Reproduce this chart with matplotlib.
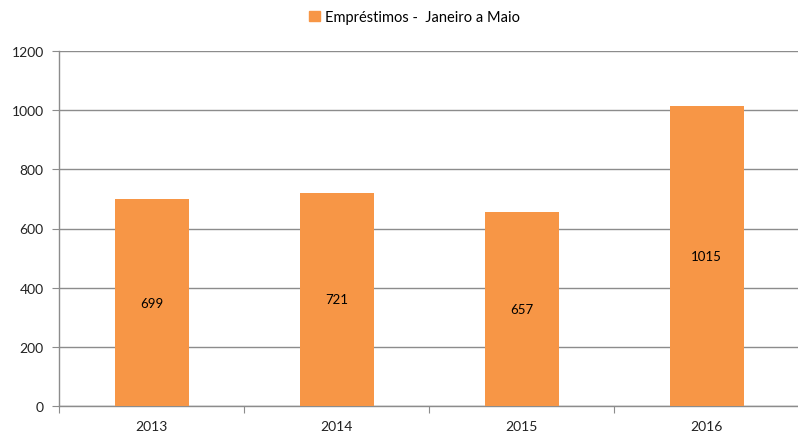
import matplotlib
matplotlib.use("Agg")
import matplotlib.pyplot as plt
from matplotlib.patches import Patch
import numpy as np

categories = ["2013", "2014", "2015", "2016"]
values = [699, 721, 657, 1015]
series_name = "Empréstimos -  Janeiro a Maio"
yticks = [0, 200, 400, 600, 800, 1000, 1200]

plt.rcParams['font.family'] = ['Lato', 'DejaVu Sans']
orange = "#F79646"
grey = "#8c8c8c"

fig = plt.figure(figsize=(7.98, 4.35), dpi=100)
ax = fig.add_axes([59/798, 1 - 407/435, 740/798, 355/435])

x = np.arange(len(categories))
bars = ax.bar(x, values, width=0.4, color=orange, zorder=3)
for xi, v in zip(x, values):
    ax.text(xi, v / 2, str(v), ha="center", va="center", fontsize=9.5, color="#000000", zorder=4)

ax.set_xlim(-0.5, len(categories) - 0.5)
ax.set_ylim(0, 1200)
ax.set_yticks(yticks)
ax.set_yticklabels([str(t) for t in yticks], fontsize=10, color="#222222")
ax.yaxis.grid(True, color=grey, linewidth=1, zorder=0)

ax.set_xticks(np.arange(-0.5, len(categories) + 0.5, 1))
ax.set_xticklabels([])
ax.set_xticks(x, minor=True)
ax.set_xticklabels(categories, minor=True, fontsize=10, color="#222222")
ax.tick_params(axis="x", which="major", length=5, color=grey, direction="out")
ax.tick_params(axis="x", which="minor", length=0, pad=10)
ax.tick_params(axis="y", length=5, color=grey, pad=6)

for s in ["top", "right"]:
    ax.spines[s].set_visible(False)
for s in ["left", "bottom"]:
    ax.spines[s].set_color(grey)
    ax.spines[s].set_linewidth(1)

handle = Patch(facecolor=orange, edgecolor=orange)
fig.legend([handle], [series_name], loc="center", bbox_to_anchor=(0.52, 1 - 18/435),
           frameon=False, fontsize=10.5, handlelength=0.7, handleheight=0.7, handletextpad=0.4)

fig.savefig("out.png", dpi=100)
